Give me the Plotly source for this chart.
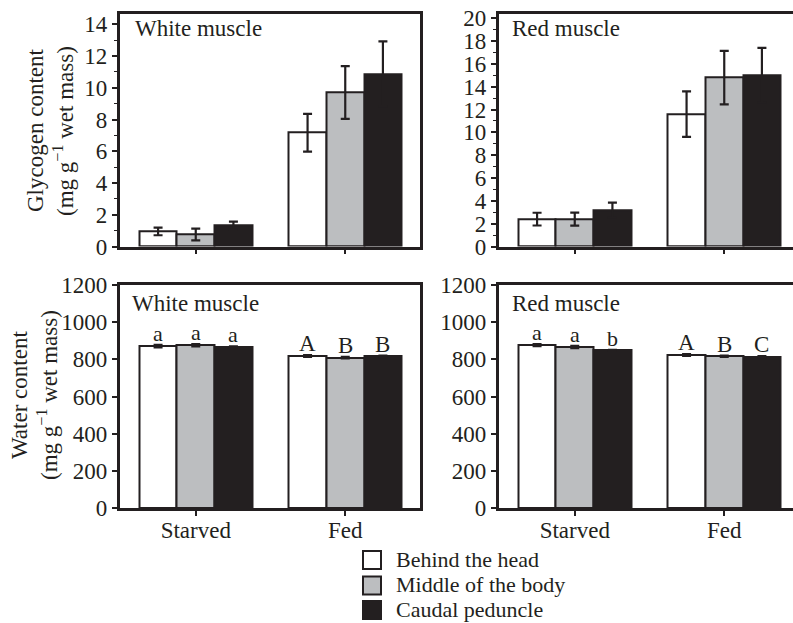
import plotly.graph_objects as go

W, H = 793, 623

groups = ["Starved", "Fed"]
series = ["Behind the head", "Middle of the body", "Caudal peduncle"]
colors = ["#ffffff", "#bcbec0", "#231f20"]

# Glycogen content (mg g-1 wet mass)
gly_white = [[0.95, 7.17], [0.76, 9.7], [1.31, 10.88]]
gly_white_err = [[0.24, 1.19], [0.37, 1.66], [0.26, 2.04]]
gly_red = [[2.4, 11.6], [2.4, 14.8], [3.2, 15.0]]
gly_red_err = [[0.56, 2.0], [0.57, 2.34], [0.65, 2.4]]

# Water content (mg g-1 wet mass)
wat_white = [[872, 818], [876, 810], [866, 816]]
wat_white_err = [[7, 5], [6, 4], [4, 4]]
wat_red = [[877, 824], [867, 817], [849, 815]]
wat_red_err = [[6, 5], [6, 4], [3, 3]]

letters_white = [["a", "A"], ["a", "B"], ["a", "B"]]
letters_red = [["a", "A"], ["a", "B"], ["b", "C"]]

panel_titles = ["White muscle", "Red muscle", "White muscle", "Red muscle"]

FONT = "Liberation Serif, Times New Roman, serif"
INK = "#231f20"
FS = 23
bw = 0.252
offsets = [-bw, 0.0, bw]

def px(x):
    return x / W

def py(y):
    return 1 - y / H

fig = go.Figure()

panels = [
    ("x", "y", gly_white, gly_white_err, None),
    ("x2", "y2", gly_red, gly_red_err, None),
    ("x3", "y3", wat_white, wat_white_err, letters_white),
    ("x4", "y4", wat_red, wat_red_err, letters_red),
]

annotations = []
shapes = []
for (xa, ya, vals, errs, letters) in panels:
    for i in range(3):
        xs = [g + offsets[i] for g in range(len(groups))]
        fig.add_trace(go.Bar(
            x=xs, y=vals[i], width=bw, xaxis=xa, yaxis=ya,
            marker=dict(color=colors[i], line=dict(color=INK, width=2)),
            error_y=dict(type="data", array=errs[i], visible=True,
                         color=INK, thickness=2.2, width=4.5),
            showlegend=False, name=series[i],
        ))
        if letters:
            for g in range(len(groups)):
                annotations.append(dict(
                    x=xs[g], y=vals[i][g] + errs[i][g], xref=xa, yref=ya,
                    text=letters[i][g], showarrow=False, yanchor="bottom",
                    yshift=-3, font=dict(family=FONT, size=FS if g == 1 else FS - 1, color=INK)))

axline = dict(showline=True, linecolor=INK, linewidth=2.5, ticks="outside",
              tickcolor=INK, tickwidth=1.5, ticklen=5, showgrid=False,
              zeroline=False, automargin=False,
              tickfont=dict(family=FONT, size=FS, color=INK))

xl = [px(119.5), px(420)]
xr = [px(498.5), 1.0]
yt = [py(246.5), py(14.3)]
yb = [py(508.3), py(285)]

xrange_l = [-0.51, 1.5]
xrange_r = [-0.51, -0.51 + (793 - 498.5) / 149.5]

def xaxis(dom, rng, labels, anchor):
    return dict(axline, domain=dom, range=rng, tickvals=[0, 1],
                ticktext=groups, showticklabels=labels, anchor=anchor,
                mirror=True, ticklabelstandoff=-6)

def yaxis(dom, rng, dtick, anchor, mirror, minor):
    d = dict(axline, domain=dom, range=rng, dtick=dtick, tick0=0, anchor=anchor,
             mirror=mirror)
    if minor:
        d["minor"] = dict(dtick=minor, ticks="outside", ticklen=3,
                          tickwidth=1.2, tickcolor=INK, showgrid=False)
    return d

fig.update_layout(
    template="none",
    width=W, height=H, margin=dict(l=0, r=0, t=0, b=0, pad=0, autoexpand=False),
    paper_bgcolor="white", plot_bgcolor="white",
    barmode="overlay", bargap=0, showlegend=False,
    font=dict(family=FONT, size=FS, color=INK),
    xaxis=xaxis(xl, xrange_l, False, "y"),
    yaxis=yaxis(yt, [0, 14.63], 2, "x", True, 1),
    xaxis2=xaxis(xr, xrange_r, False, "y2"),
    yaxis2=yaxis(yt, [0, 20.35], 2, "x2", False, 1),
    xaxis3=xaxis(xl, xrange_l, True, "y3"),
    yaxis3=yaxis(yb, [0, 1200], 200, "x3", True, None),
    xaxis4=xaxis(xr, xrange_r, True, "y4"),
    yaxis4=yaxis(yb, [0, 1200], 200, "x4", False, None),
)

# legend (drawn manually for exact spacing)
leg_y = [560, 585.5, 610]
for i in range(3):
    shapes.append(dict(type="rect", xref="paper", yref="paper",
                       x0=px(363), x1=px(381), y0=py(leg_y[i] - 9), y1=py(leg_y[i] + 9),
                       fillcolor=colors[i], line=dict(color=INK, width=2)))
    annotations.append(dict(x=px(394), y=py(leg_y[i] - 1), xref="paper", yref="paper",
                            text=series[i], showarrow=False, xanchor="left",
                            yanchor="middle", font=dict(family=FONT, size=FS - 1, color=INK)))

# panel titles
title_pos = [(133, 29), (510, 29), (130, 303), (510, 303)]
for t, (x, y) in zip(panel_titles, title_pos):
    annotations.append(dict(x=px(x), y=py(y), xref="paper", yref="paper",
                            text=t, showarrow=False, xanchor="left", yanchor="middle",
                            font=dict(family=FONT, size=FS, color=INK)))

# y-axis titles
ytitles = [
    ("Glycogen content", 35, 131),
    ("(mg g<sup>−1</sup> wet mass)", 63, 131),
    ("Water content", 20, 395),
    ("(mg g<sup>−1</sup> wet mass)", 48, 395),
]
for t, x, y in ytitles:
    annotations.append(dict(x=px(x), y=py(y), xref="paper", yref="paper",
                            text=t, showarrow=False, textangle=-90,
                            xanchor="center", yanchor="middle",
                            font=dict(family=FONT, size=FS, color=INK)))

fig.update_layout(annotations=annotations, shapes=shapes)
fig.write_html("out.html")
